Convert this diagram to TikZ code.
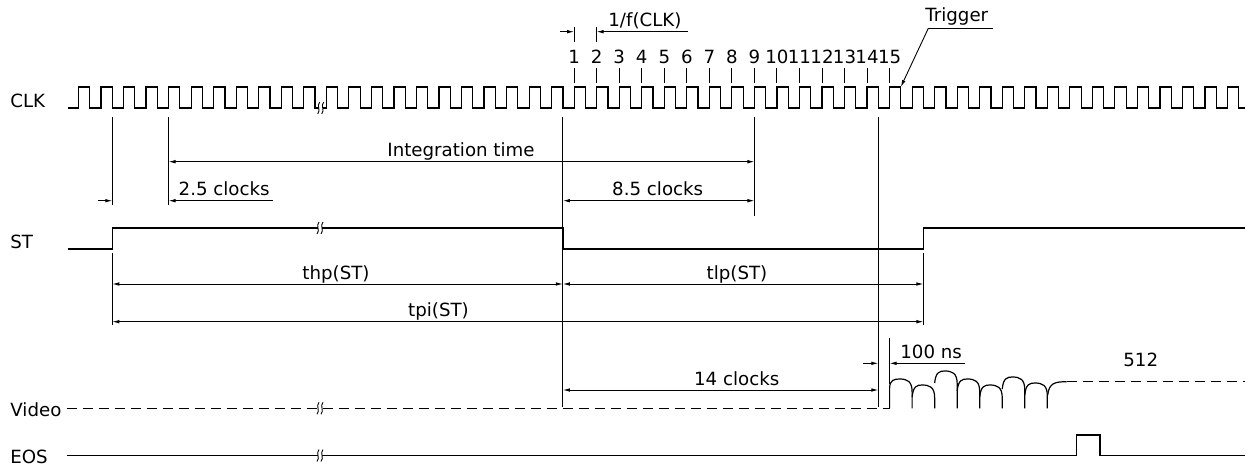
\documentclass[tikz,border=0pt]{standalone}
\usepackage{fontspec}
\setmainfont{DejaVu Sans}
\usetikzlibrary{arrows.meta}
\begin{document}
\begin{tikzpicture}[x=0.5pt,y=-0.5pt,
  sig/.style={line width=0.6pt},
  ext/.style={line width=0.45pt},
  dimarr/.style={line width=0.45pt,{Latex[length=3.5pt,width=1.8pt]}-{Latex[length=3.5pt,width=1.8pt]}},
  toarr/.style={line width=0.45pt,-{Latex[length=3.5pt,width=1.8pt]}},
  lbl/.style={inner sep=0pt,font=\fontsize{9.1pt}{11pt}\selectfont},
  brk/.pic={
    \fill[white] (-2,-2.5) rectangle (2,2.5);
    \draw[line width=0.45pt] (-3,6) .. controls (0.5,2) and (-4.5,-2) .. (-1,-6);
    \draw[line width=0.45pt] (1,6) .. controls (4.5,2) and (-0.5,-2) .. (3,-6);
  }]
\useasboundingbox (0,0) rectangle (1251,466);
\def\xo{78.5}
\def\p{22.53}
% key instants
\coordinate (str) at (112.3,0);
\coordinate (ist) at (168.6,0);
\coordinate (stf) at (562.9,0);
\coordinate (ien) at (754.4,0);
\coordinate (vst) at (878.3,0);
\coordinate (px1) at (889.6,0);
\coordinate (st2) at (923.4,0);
% signal labels
\node[lbl,anchor=base west] (lclk) at (10,107.7) {CLK};
\node[lbl,anchor=base west] (lst) at (10,248.3) {ST};
\node[lbl,anchor=base west] (lvid) at (10,416) {Video};
\node[lbl,anchor=base west] (leos) at (10,463.3) {EOS};
% CLK waveform
\draw[sig] (68.3,108) \foreach \k in {0,...,51}{
  -- ({\xo+\k*\p},108) -- ({\xo+\k*\p},87) -- ({\xo+(\k+0.5)*\p},87) -- ({\xo+(\k+0.5)*\p},108)} -- (1245,108);
\pic at (320.7,108) {brk};
% clock numbering
\foreach \n in {1,...,15}{
  \node[lbl,anchor=base] (n\n) at ({\xo+(\n+21)*\p},63.3) {\n};
  \draw[ext] ({\xo+(\n+21)*\p},68) -- ({\xo+(\n+21)*\p},83);
}
% 1/f(CLK)
\draw[ext] (574.1,27) -- (574.1,42);
\draw[ext] (596.6,27) -- (596.6,42);
\draw[toarr] (560,31.7) -- (574.1,31.7);
\draw[toarr] (688,31.7) -- (596.6,31.7);
\node[lbl,anchor=base west] (lf) at (608,26) {1/f(CLK)};
% Trigger
\node[lbl,anchor=base west] (ltrig) at (925,21.7) {Trigger};
\coordinate (trigtip) at (900.8,87);
\draw[ext] (993.3,28.3) -- (928.3,28.3);
\draw[toarr] (928.3,28.3) -- (trigtip);
% ST waveform
\draw[sig] (67.7,249) -- (112.3,249) -- (112.3,228) -- (562.9,228) -- (562.9,249) -- (923.4,249) -- (923.4,228) -- (1245,228);
\pic at (320,228) {brk};
% extension lines
\draw[ext] (112.3,117) -- (112.3,205);
\draw[ext] (112.3,253) -- (112.3,325);
\draw[ext] (168.6,117) -- (168.6,205);
\draw[ext] (562.9,117) -- (562.9,407);
\draw[ext] (754.4,117) -- (754.4,216);
\draw[ext] (878.3,117) -- (878.3,407);
\draw[ext] (923.4,253) -- (923.4,325);
\draw[ext] (889.6,338) -- (889.6,384);
% dimensions
\draw[dimarr] (168.6,161.7) -- (754.4,161.7);
\node[lbl,anchor=base] (lint) at (461,156.3) {Integration time};
\draw[toarr] (98.3,200.7) -- (112.3,200.7);
\draw[toarr] (273,200.7) -- (168.6,200.7);
\node[lbl,anchor=base west] (l25) at (178.3,195.3) {2.5 clocks};
\draw[dimarr] (562.9,200.7) -- (754.4,200.7);
\node[lbl,anchor=base] (l85) at (657.7,195.3) {8.5 clocks};
\draw[dimarr] (112.3,284) -- (562.9,284);
\node[lbl,anchor=base] (lthp) at (336,279.3) {thp(ST)};
\draw[dimarr] (562.9,284) -- (923.4,284);
\node[lbl,anchor=base] (ltlp) at (737,279.3) {tlp(ST)};
\draw[dimarr] (112.3,321.7) -- (923.4,321.7);
\node[lbl,anchor=base] (ltpi) at (438.5,316.5) {tpi(ST)};
\draw[dimarr] (562.9,390) -- (878.3,390);
\node[lbl,anchor=base] (l14) at (736.7,385.5) {14 clocks};
\draw[toarr] (863.3,363.3) -- (878.3,363.3);
\draw[toarr] (965,363.3) -- (889.6,363.3);
\node[lbl,anchor=base west] (l100) at (900,358.3) {100 ns};
\node[lbl,anchor=base west] (l512) at (1123,366.7) {512};
% Video
\draw[sig,dash pattern=on 5pt off 3pt] (66.7,408.3) -- (889.6,408.3);
\pic at (320,408.3) {brk};
\draw[sig] (889.6,408.3) -- (889.6,388) .. controls (889.8,380) and (894,379) .. (899.6,379)
  .. controls (907,379) and (912.1,381) .. (912.1,392) -- (912.1,408.3);
\foreach \i/\yp in {1/385,2/371,3/379,4/385,5/377,6/383}{
  \pgfmathsetmacro\xs{889.6+\i*\p}
  \pgfmathsetmacro\xn{\xs+\p}
  \draw[sig] (\xs,{\yp+12}) .. controls ({\xs+1},{\yp+1}) and ({\xs+5},\yp) .. ({\xs+10},\yp)
    .. controls ({\xn-5},\yp) and (\xn,{\yp+2}) .. (\xn,{\yp+13}) -- (\xn,408.3);
}
\draw[sig] (1047.7,395) .. controls (1049,383) and (1055,381.7) .. (1066.7,381.7);
\draw[sig,dash pattern=on 5pt off 3pt] (1066.7,381.7) -- (1245,381.7);
% EOS
\draw[sig] (66.7,455.5) -- (1076.7,455.5) -- (1076.7,435) -- (1100,435) -- (1100,455.5) -- (1245,455.5);
\pic at (320,455.5) {brk};
\end{tikzpicture}
\end{document}
